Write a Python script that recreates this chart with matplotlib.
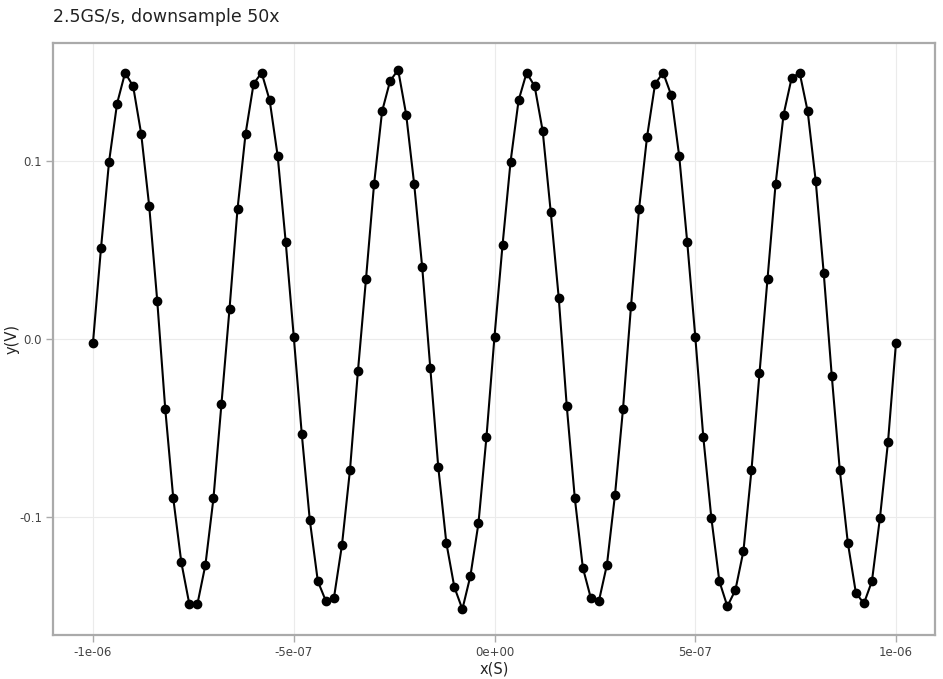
import numpy as np
import matplotlib
matplotlib.use("Agg")
import matplotlib.pyplot as plt

title = "2.5GS/s, downsample 50x"
x_start = -1e-6
x_step = 2e-8
y_values = [
    -0.0020, 0.0512, 0.0996, 0.1323, 0.1496, 0.1420, 0.1153, 0.0747, 0.0215, -0.0394,
    -0.0896, -0.1255, -0.1490, -0.1490, -0.1269, -0.0896, -0.0363, 0.0169, 0.0731, 0.1153,
    0.1434, 0.1496, 0.1341, 0.1028, 0.0544, 0.0014, -0.0534, -0.1018, -0.1361, -0.1472,
    -0.1456, -0.1159, -0.0737, -0.0177, 0.0339, 0.0869, 0.1279, 0.1450, 0.1512, 0.1261,
    0.0869, 0.0402, -0.0161, -0.0721, -0.1145, -0.1394, -0.1518, -0.1331, -0.1036, -0.0550,
    0.0014, 0.0528, 0.0996, 0.1341, 0.1496, 0.1420, 0.1169, 0.0715, 0.0231, -0.0378,
    -0.0894, -0.1285, -0.1456, -0.1472, -0.1269, -0.0878, -0.0394, 0.0185, 0.0731, 0.1137,
    0.1434, 0.1496, 0.1371, 0.1028, 0.0544, 0.0014, -0.0550, -0.1004, -0.1361, -0.1502,
    -0.1410, -0.1191, -0.0737, -0.0191, 0.0339, 0.0869, 0.1261, 0.1466, 0.1496, 0.1279,
    0.0888, 0.0369, -0.0207, -0.0737, -0.1145, -0.1426, -0.1486, -0.1361, -0.1004, -0.0580,
    -0.0020,
]
x_values = [x_start + i * x_step for i in range(len(y_values))]
x_ticks = [-1e-6, -5e-7, 0.0, 5e-7, 1e-6]
x_ticklabels = ["-1e-06", "-5e-07", "0e+00", "5e-07", "1e-06"]
y_ticks = [-0.1, 0.0, 0.1]
y_ticklabels = ["-0.1", "0.0", "0.1"]

plt.rcParams['font.family'] = ['DejaVu Sans']
fig = plt.figure(figsize=(9.43, 6.79), dpi=100)
W, H = 943, 679
ax = fig.add_axes([53 / W, 1 - 635 / H, (935 - 53) / W, (635 - 43) / H])

ax.plot(x_values, y_values, color="black", linewidth=1.5, marker="o",
        markersize=6, zorder=3)

ax.set_xlim(-1.0996e-6, 1.0971e-6)
ax.set_ylim(-0.1663, 0.1663)
ax.set_xticks(x_ticks)
ax.set_xticklabels(x_ticklabels)
ax.set_yticks(y_ticks)
ax.set_yticklabels(y_ticklabels)
ax.grid(True, color="#ebebeb", linewidth=0.8, zorder=0)
ax.set_axisbelow(True)
for s in ax.spines.values():
    s.set_color("#aaaaaa")
    s.set_linewidth(1.6)
ax.tick_params(axis="both", direction="out", length=5, width=1, color="#aaaaaa",
               labelsize=8.5, labelcolor="#444444", pad=3)

fig.text(494 / W, 1 - 669 / H, "x(S)", fontsize=10.5, color="#222222",
         ha="center", va="center")
fig.text(12 / W, 1 - 339 / H, "y(V)", fontsize=10.5, color="#222222",
         ha="center", va="center", rotation=90)
fig.text(53 / W, 1 - 17 / H, title, fontsize=12.5, color="#222222",
         ha="left", va="center")

fig.savefig("out.png", dpi=100, facecolor="white")
